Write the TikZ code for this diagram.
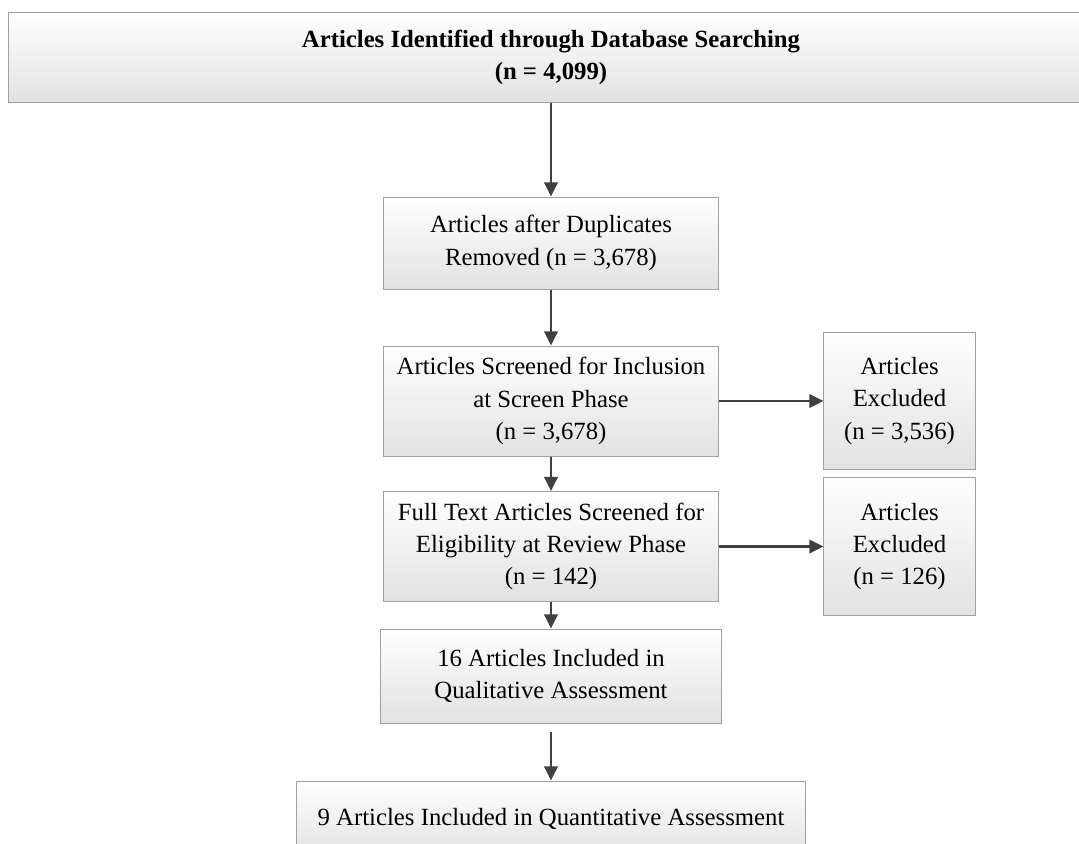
\documentclass[tikz,border=0pt]{standalone}
\usepackage{fontspec}
\setmainfont{Liberation Serif}
\usetikzlibrary{arrows.meta}

\definecolor{boxline}{HTML}{A0A0A0}
\definecolor{boxshade}{HTML}{E2E2E2}
\definecolor{arrowgray}{HTML}{404040}

\begin{document}
\begin{tikzpicture}[x=0.025cm, y=-0.025cm,
        font=\fontsize{17.6}{23}\selectfont,
        stage/.style={draw=boxline, line width=0.7pt, top color=white, bottom color=boxshade,
                      align=center, inner sep=0pt, minimum width=8.375cm, minimum height=2.75cm},
        >={Triangle[length=10pt, width=9.5pt]},
        flow/.style={->, draw=arrowgray, line width=1.8pt}]
        \useasboundingbox (0,0) rectangle (1079,843);

        \node[stage, minimum width=27.125cm, minimum height=2.225cm] (ident) at (551,57.5)
            {\textbf{Articles Identified through Database Searching}\\\textbf{(n = 4,099)}};
        \node[stage, minimum height=2.3cm] (dup) at (551,243) {Articles after Duplicates\\Removed (n = 3,678)};
        \node[stage] (screen) at (551,401) {Articles Screened for Inclusion\\at Screen Phase\\(n = 3,678)};
        \node[stage, minimum width=3.775cm, minimum height=3.425cm] (excla) at (899.5,401) {Articles\\Excluded\\(n = 3,536)};
        \node[stage] (full) at (551,546.5) {Full Text Articles Screened for\\Eligibility at Review Phase\\(n = 142)};
        \node[stage, minimum width=3.775cm, minimum height=3.425cm] (exclb) at (899.5,546.5) {Articles\\Excluded\\(n = 126)};
        \node[stage, minimum width=8.5cm, minimum height=2.35cm] (qual) at (551,676) {16 Articles Included in\\Qualitative Assessment};
        \node[stage, minimum width=12.7cm, minimum height=1.9cm] (quant) at (551,819) {9 Articles Included in Quantitative Assessment};

        \draw[flow] (ident) to (dup);
        \draw[flow] (dup) to (screen);
        \draw[flow] (screen) to (full);
        \draw[flow] (full) to (qual);
        \draw[flow, shorten <=6pt] (qual) to (quant);
        \draw[flow] (screen) to (excla);
        \draw[flow] (full) to (exclb);
      \end{tikzpicture}
\end{document}
